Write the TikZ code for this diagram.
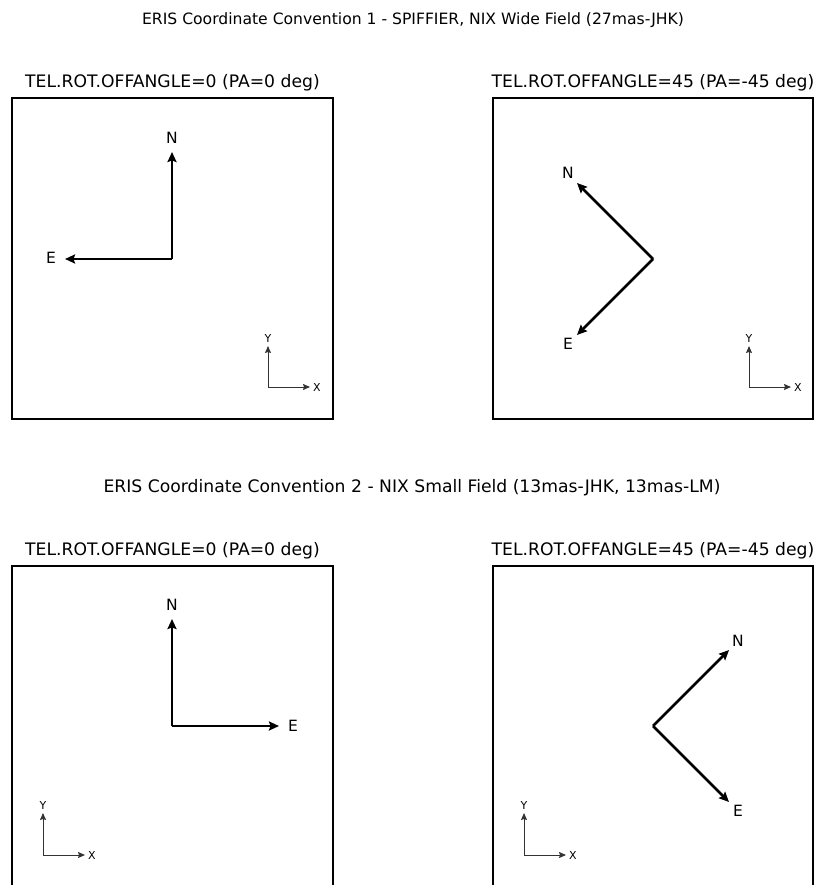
\documentclass[tikz,border=0pt]{standalone}
\usepackage{fontspec}
\setmainfont{DejaVu Sans}
\usetikzlibrary{arrows.meta}
\tikzset{
    frame/.style={draw, line width=1.3pt},
    dirarrow/.style={line width=2.8pt, -{Stealth[length=10pt,width=9pt,inset=1.5pt]}},
    axarrow/.style={line width=1pt, black!80, -{Stealth[length=7pt,width=6pt,inset=1pt]}},
    dirlabel/.style={inner sep=0pt, font=\fontsize{15.5}{17}\selectfont},
    axlabel/.style={inner sep=0pt, font=\fontsize{11}{13}\selectfont},
    heading/.style={anchor=base, inner sep=0pt, font=\fontsize{17.2}{20}\selectfont},
    maintitle/.style={heading, font=\fontsize{15.6}{19}\selectfont}
}

\begin{document}
\begin{tikzpicture}[x=1pt, y=-1pt]
    \useasboundingbox (0,0) rectangle (814,885);

    % headings
    \node[maintitle] (conv1) at (413, 25) {ERIS Coordinate Convention 1 - SPIFFIER, NIX Wide Field (27mas-JHK)};
    \node[heading] (conv2) at (412, 492) {ERIS Coordinate Convention 2 - NIX Small Field (13mas-JHK, 13mas-LM)};
    \node[heading] (tl) at (172.5, 88) {TEL.ROT.OFFANGLE=0 (PA=0 deg)};
    \node[heading] (tr) at (653, 88) {TEL.ROT.OFFANGLE=45 (PA=-45 deg)};
    \node[heading] (bl) at (172.5, 555) {TEL.ROT.OFFANGLE=0 (PA=0 deg)};
    \node[heading] (br) at (653, 555) {TEL.ROT.OFFANGLE=45 (PA=-45 deg)};

    % frames
    \draw[frame] (12, 98) rectangle (333, 419);
    \draw[frame] (493, 98) rectangle (813, 419);
    \draw[frame] (12, 566) rectangle (333, 895);
    \draw[frame] (493, 566) rectangle (813, 895);

    % convention 1, PA=0
    \coordinate (o1) at (172, 259);
    \coordinate (n1) at (172, 152);
    \coordinate (e1) at (65, 259);
    \node[dirlabel] (N1) at (172, 138) {N};
    \node[dirlabel] (E1) at (51, 258) {E};
    \draw[dirarrow] (o1) -- (n1);
    \draw[dirarrow] (o1) -- (e1);

    % convention 1, PA=-45
    \coordinate (o2) at (653, 259);
    \coordinate (n2) at (577, 183);
    \coordinate (e2) at (577, 335);
    \node[dirlabel] (N2) at (568, 173) {N};
    \node[dirlabel] (E2) at (568, 344) {E};
    \draw[dirarrow] (o2) -- (n2);
    \draw[dirarrow] (o2) -- (e2);

    % convention 2, PA=0
    \coordinate (o3) at (172, 726);
    \coordinate (n3) at (172, 619);
    \coordinate (e3) at (279, 726);
    \node[dirlabel] (N3) at (172, 605) {N};
    \node[dirlabel] (E3) at (293, 726) {E};
    \draw[dirarrow] (o3) -- (n3);
    \draw[dirarrow] (o3) -- (e3);

    % convention 2, PA=-45
    \coordinate (o4) at (653, 726);
    \coordinate (n4) at (729, 650);
    \coordinate (e4) at (729, 802);
    \node[dirlabel] (N4) at (738, 641) {N};
    \node[dirlabel] (E4) at (738, 811) {E};
    \draw[dirarrow] (o4) -- (n4);
    \draw[dirarrow] (o4) -- (e4);

    % detector axes
    \coordinate (a1) at (268, 387);
    \coordinate (y1) at (268, 346);
    \coordinate (x1) at (310, 387);
    \node[axlabel] (Y1) at (268, 338) {Y};
    \node[axlabel] (X1) at (317, 387) {X};
    \draw[axarrow] (a1) -- (y1);
    \draw[axarrow] (a1) -- (x1);

    \coordinate (a2) at (749, 387);
    \coordinate (y2) at (749, 346);
    \coordinate (x2) at (791, 387);
    \node[axlabel] (Y2) at (749, 338) {Y};
    \node[axlabel] (X2) at (798, 387) {X};
    \draw[axarrow] (a2) -- (y2);
    \draw[axarrow] (a2) -- (x2);

    \coordinate (a3) at (43, 855);
    \coordinate (y3) at (43, 813);
    \coordinate (x3) at (85, 855);
    \node[axlabel] (Y3) at (43, 805) {Y};
    \node[axlabel] (X3) at (92, 855) {X};
    \draw[axarrow] (a3) -- (y3);
    \draw[axarrow] (a3) -- (x3);

    \coordinate (a4) at (524, 855);
    \coordinate (y4) at (524, 813);
    \coordinate (x4) at (566, 855);
    \node[axlabel] (Y4) at (524, 805) {Y};
    \node[axlabel] (X4) at (573, 855) {X};
    \draw[axarrow] (a4) -- (y4);
    \draw[axarrow] (a4) -- (x4);

\end{tikzpicture}
\end{document}
